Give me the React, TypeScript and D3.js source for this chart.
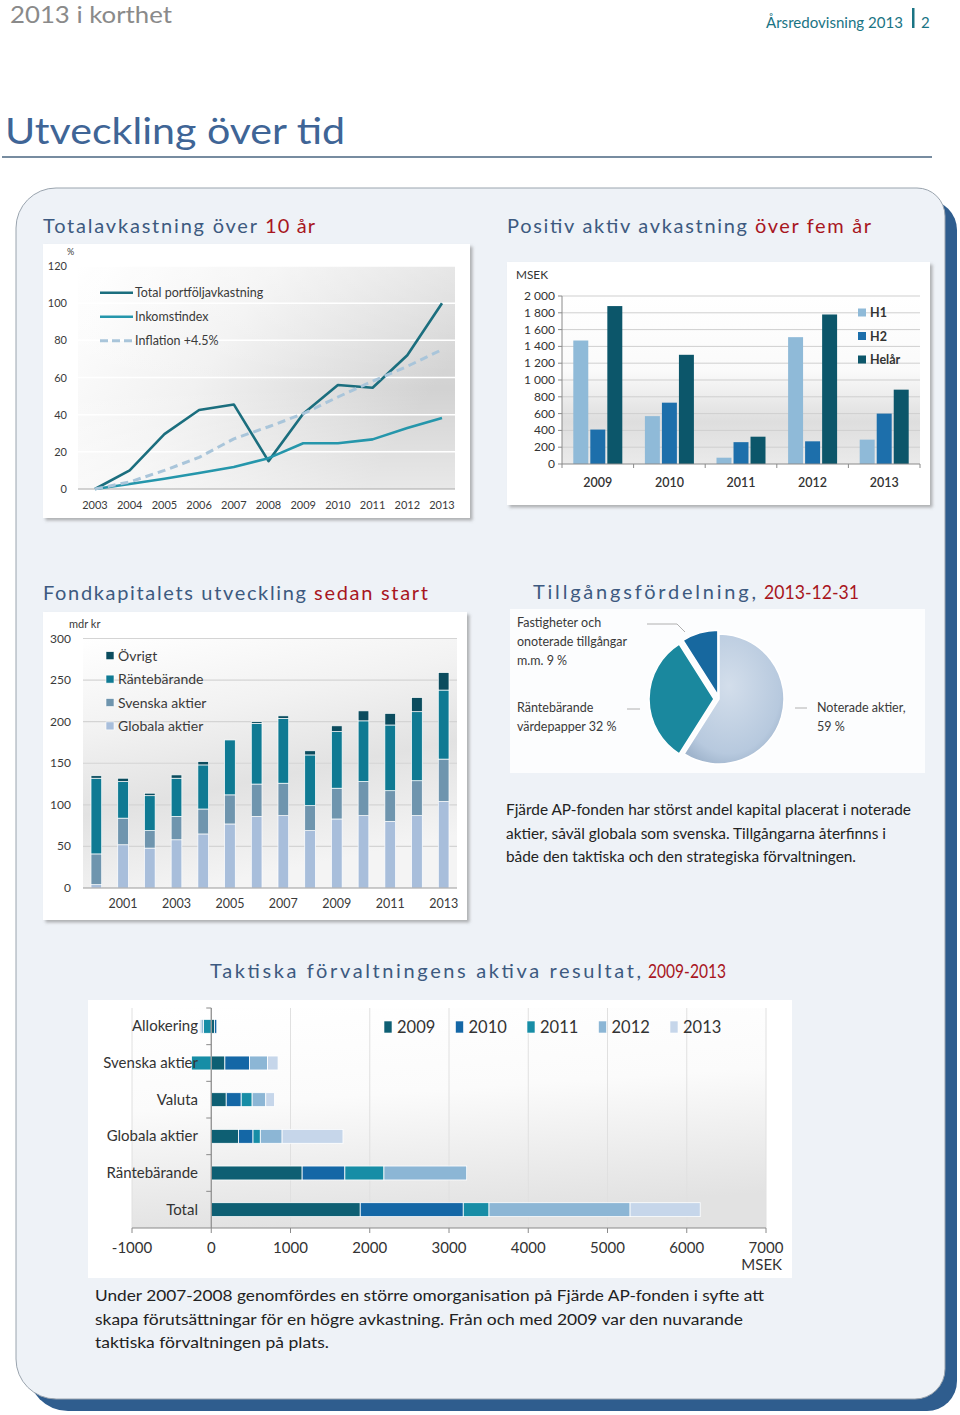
import React from "react";
import * as d3 from "d3";

const FONT = "Lato, 'Open Sans', 'DejaVu Sans', sans-serif";

// ---------- Totalavkastning över 10 år ----------
const returnYears = ["2003", "2004", "2005", "2006", "2007", "2008", "2009", "2010", "2011", "2012", "2013"];
const totalReturn = [0, 10, 29.5, 42.5, 45.5, 15, 40.5, 56, 54.5, 72, 100];
const incomeIndex = [0, 2.7, 5.5, 8.6, 11.8, 16.6, 24.6, 24.6, 26.7, 32.8, 38.2];
const inflationPlus = [0, 3.8, 10, 17, 27, 33.5, 40.5, 49.5, 58, 66, 75];
const returnTicks = [0, 20, 40, 60, 80, 100, 120];
const returnLegend = ["Total portföljavkastning", "Inkomstindex", "Inflation +4.5%"];

// ---------- Positiv aktiv avkastning över fem år ----------
const activeYears = ["2009", "2010", "2011", "2012", "2013"];
const activeH1 = [1470, 570, 75, 1510, 290];
const activeH2 = [410, 730, 260, 270, 600];
const activeFull = [1880, 1300, 325, 1780, 885];
const activeSeries = ["H1", "H2", "Helår"];
const activeTicks = [0, 200, 400, 600, 800, 1000, 1200, 1400, 1600, 1800, 2000];

// ---------- Fondkapitalets utveckling sedan start ----------
const capitalYears = ["2000", "2001", "2002", "2003", "2004", "2005", "2006", "2007", "2008", "2009", "2010", "2011", "2012", "2013"];
const capGlobal = [4, 52, 48, 58, 65, 77, 86, 87, 69, 83, 87, 80, 87, 104];
const capSwedish = [37, 32, 21, 28, 30, 35, 39, 39, 30, 37, 41, 37, 42, 51];
const capFixed = [91, 44, 42, 46, 53, 66, 73, 78, 61, 68, 73, 79, 83, 83];
const capOther = [3, 4, 3, 4, 4, 0, 2, 3, 5, 7, 12, 14, 17, 21];
const capitalSeries = ["Globala aktier", "Svenska aktier", "Räntebärande", "Övrigt"];
const capitalTicks = [0, 50, 100, 150, 200, 250, 300];
const capitalLabelYears = ["2001", "2003", "2005", "2007", "2009", "2011", "2013"];

// ---------- Tillgångsfördelning ----------
const allocationNames = ["Noterade aktier", "Räntebärande värdepapper", "Fastigheter och onoterade tillgångar m.m."];
const allocationShares = [59, 32, 9];
const allocationLabelLines = [
  ["Noterade aktier,", "59 %"],
  ["Räntebärande", "värdepapper 32 %"],
  ["Fastigheter och", "onoterade tillgångar", "m.m.  9 %"],
];

// ---------- Taktiska förvaltningens aktiva resultat ----------
const tacticalCategories = ["Allokering", "Svenska aktier", "Valuta", "Globala aktier", "Räntebärande", "Total"];
const tacticalYears = ["2009", "2010", "2011", "2012", "2013"];
const tact2009 = [40, 172, 189, 344, 1147, 1880];
const tact2010 = [30, 310, 189, 183, 539, 1300];
const tact2011 = [-100, -250, 138, 92, 493, 325];
const tact2012 = [-30, 229, 172, 275, 1044, 1780];
const tact2013 = [-20, 132, 109, 768, 0, 885];
const tacticalTicks = [-1000, 0, 1000, 2000, 3000, 4000, 5000, 6000, 7000];

const rightText = [
  "Fjärde AP-fonden har störst andel kapital placerat i noterade",
  "aktier, såväl globala som svenska. Tillgångarna återfinns i",
  "både den taktiska och den strategiska förvaltningen.",
];
const bottomText = [
  "Under 2007-2008 genomfördes en större omorganisation på Fjärde AP-fonden i syfte att",
  "skapa förutsättningar för en högre avkastning. Från och med 2009 var den nuvarande",
  "taktiska förvaltningen på plats.",
];

function roundedPath(x0: number, y0: number, x1: number, y1: number, tl: number, tr: number, br: number, bl: number) {
  const p = d3.path();
  p.moveTo(x0 + tl, y0);
  p.lineTo(x1 - tr, y0);
  p.arcTo(x1, y0, x1, y0 + tr, tr);
  p.lineTo(x1, y1 - br);
  p.arcTo(x1, y1, x1 - br, y1, br);
  p.lineTo(x0 + bl, y1);
  p.arcTo(x0, y1, x0, y1 - bl, bl);
  p.lineTo(x0, y0 + tl);
  p.arcTo(x0, y0, x0 + tl, y0, tl);
  p.closePath();
  return p.toString();
}

function fmtSpace(v: number) {
  if (v >= 1000) return `${Math.floor(v / 1000)} ${String(v % 1000).padStart(3, "0")}`;
  return String(v);
}

export default function App() {
  // ----- chart 1 -----
  const x1 = d3.scalePoint<string>().domain(returnYears).range([95, 442]);
  const y1 = d3.scaleLinear().domain([0, 120]).range([489, 266]);
  const line1 = d3
    .line<number>()
    .x((_, i) => x1(returnYears[i]) as number)
    .y((d) => y1(d));
  const lineColors = ["#1b6e7e", "#2596ab", "#a9c5da"];
  const lineSeries = [totalReturn, incomeIndex, inflationPlus];

  // ----- chart 2 -----
  const x2 = d3.scaleBand<string>().domain(activeYears).range([562, 920]);
  const x2i = d3.scaleBand<string>().domain(activeSeries).range([11.3, 60.3]).paddingInner(0.12);
  const y2 = d3.scaleLinear().domain([0, 2000]).range([464, 296]);
  const activeColors = ["#8fbad8", "#1d6fab", "#0c566a"];
  const activeValues = [activeH1, activeH2, activeFull];

  // ----- chart 3 -----
  const x3 = d3.scaleBand<string>().domain(capitalYears).range([83, 457]).paddingInner(0.6).paddingOuter(0.3);
  const y3 = d3.scaleLinear().domain([0, 300]).range([888, 638.5]);
  const capColors = ["#a8bedb", "#6f95ae", "#0f7a93", "#0b4c5e"];
  const capRows = capitalYears.map((yr, i) => ({
    year: yr,
    "Globala aktier": capGlobal[i],
    "Svenska aktier": capSwedish[i],
    "Räntebärande": capFixed[i],
    "Övrigt": capOther[i],
  }));
  const capStack = d3.stack<any>().keys(capitalSeries)(capRows);

  // ----- chart 4 (pie) -----
  const pieCx = 719;
  const pieCy = 699;
  const pieR = 65;
  const pieArcs = d3.pie<number>().sort(null).startAngle(0).endAngle(2 * Math.PI)(allocationShares);
  const arcGen = d3.arc<d3.PieArcDatum<number>>().innerRadius(0).outerRadius(pieR);
  const pieColors = ["url(#pieLight)", "#1a889e", "#17689f"];
  const pieOffsets = [0, 5, 4];

  // ----- chart 5 -----
  const x5 = d3.scaleLinear().domain([-1000, 7000]).range([132, 766]);
  const y5 = d3.scaleBand<string>().domain(tacticalCategories).range([1008, 1228]).paddingInner(0.62).paddingOuter(0.31);
  const tactColors = ["#0e5f73", "#1467a6", "#178da6", "#8cb6d5", "#c6d6ea"];
  const tactSeriesValues = [tact2009, tact2010, tact2011, tact2012, tact2013];
  const tactRows = tacticalCategories.map((c, i) => {
    const r: any = { cat: c };
    tacticalYears.forEach((yr, k) => (r[yr] = tactSeriesValues[k][i]));
    return r;
  });
  const tactStack = d3.stack<any>().keys(tacticalYears).offset(d3.stackOffsetDiverging)(tactRows);
  const bandStep = y5.step();

  const titleBlue = "#3d5a80";
  const titleRed = "#a8161e";
  const txt = "#3a3a3a";

  return (
    <svg width={960} height={1415} style={{ position: "absolute", left: 0, top: 0 }} fontFamily={FONT}>
      <defs>
        <filter id="boxShadow" x="-5%" y="-5%" width="112%" height="115%">
          <feDropShadow dx="2.5" dy="2.5" stdDeviation="1.6" floodColor="#7a7a7a" floodOpacity="0.55" />
        </filter>
        <linearGradient id="g1" x1="0" y1="0" x2="1" y2="0.4">
          <stop offset="0" stopColor="#ffffff" />
          <stop offset="0.45" stopColor="#f1f1f1" />
          <stop offset="1" stopColor="#d2d2d2" />
        </linearGradient>
        <linearGradient id="g1v" x1="0" y1="0" x2="0" y2="1">
          <stop offset="0" stopColor="#ffffff" stopOpacity="0.35" />
          <stop offset="0.55" stopColor="#ffffff" stopOpacity="0" />
          <stop offset="1" stopColor="#ffffff" stopOpacity="0.5" />
        </linearGradient>
        <linearGradient id="g2" x1="0" y1="0" x2="0" y2="1">
          <stop offset="0" stopColor="#ffffff" />
          <stop offset="0.45" stopColor="#fafafa" />
          <stop offset="0.75" stopColor="#dedede" />
          <stop offset="1" stopColor="#eaeaea" />
        </linearGradient>
        <linearGradient id="g3" x1="0" y1="0" x2="0.3" y2="1">
          <stop offset="0" stopColor="#ffffff" />
          <stop offset="0.35" stopColor="#f2f2f2" />
          <stop offset="0.65" stopColor="#e2e2e2" />
          <stop offset="1" stopColor="#f4f4f4" />
        </linearGradient>
        <linearGradient id="g5" x1="0" y1="0" x2="0.2" y2="1">
          <stop offset="0" stopColor="#ffffff" />
          <stop offset="0.45" stopColor="#fbfbfb" />
          <stop offset="1" stopColor="#e2e2e2" />
        </linearGradient>
        <radialGradient id="pieLight" cx="0.45" cy="0.4" r="0.65">
          <stop offset="0" stopColor="#d3deeb" />
          <stop offset="0.8" stopColor="#b7c9de" />
          <stop offset="1" stopColor="#9fb4cc" />
        </radialGradient>
      </defs>

      <rect x={0} y={0} width={960} height={1415} fill="#ffffff" />

      {/* header */}
      <text x={10} y={23} fontSize={24} fill="#8a8a8a" textLength={162} lengthAdjust="spacingAndGlyphs">2013 i korthet</text>
      <text x={766} y={28} fontSize={15} fill="#1a7484" textLength={137} lengthAdjust="spacingAndGlyphs">Årsredovisning 2013</text>
      <rect x={912} y={8} width={2.5} height={20} fill="#1a7484" />
      <text x={921} y={28} fontSize={15} fill="#1a7484">2</text>
      <text x={5} y={144} fontSize={36} fill="#3f6596" textLength={340} lengthAdjust="spacingAndGlyphs">Utveckling över tid</text>
      <line x1={2} x2={932} y1={157} y2={157} stroke="#4a6680" strokeWidth={1.5} />

      {/* panel */}
      <path d={roundedPath(28, 200, 957, 1411, 40, 30, 30, 40)} fill="#2f5d8e" />
      <path d={roundedPath(16, 188, 945, 1399, 40, 28, 30, 40)} fill="#eef2f7" stroke="#9aa4ae" strokeWidth={1} />

      {/* section titles */}
      <text x={43} y={233} fontSize={20} fill={titleBlue} textLength={214} lengthAdjust="spacing">Totalavkastning över</text>
      <text x={265} y={233} fontSize={20} fill={titleRed} textLength={50} lengthAdjust="spacing">10 år</text>
      <text x={507} y={233} fontSize={20} fill={titleBlue} textLength={240} lengthAdjust="spacing">Positiv aktiv avkastning</text>
      <text x={755} y={233} fontSize={20} fill={titleRed} textLength={116} lengthAdjust="spacing">över fem år</text>
      <text x={43} y={600} fontSize={20} fill={titleBlue} textLength={263} lengthAdjust="spacing">Fondkapitalets utveckling</text>
      <text x={314} y={600} fontSize={20} fill={titleRed} textLength={114} lengthAdjust="spacing">sedan start</text>
      <text x={533} y={599} fontSize={20} fill={titleBlue} textLength={223} lengthAdjust="spacing">Tillgångsfördelning,</text>
      <text x={764} y={599} fontSize={19} fill={titleRed} textLength={95} lengthAdjust="spacingAndGlyphs">2013-12-31</text>
      <text x={210} y={978} fontSize={20} fill={titleBlue} textLength={431} lengthAdjust="spacing">Taktiska förvaltningens aktiva resultat,</text>
      <text x={648} y={978} fontSize={19} fill={titleRed} textLength={78} lengthAdjust="spacingAndGlyphs">2009-2013</text>

      {/* ---------- chart 1 ---------- */}
      <rect x={43} y={244} width={427} height={274} fill="#ffffff" filter="url(#boxShadow)" />
      <rect x={78} y={y1(120)} width={377} height={y1(0) - y1(120)} fill="url(#g1)" />
      <rect x={78} y={y1(120)} width={377} height={y1(0) - y1(120)} fill="url(#g1v)" />
      {returnTicks.filter((t) => t > 0).map((t) => (
        <line key={t} x1={78} x2={455} y1={y1(t)} y2={y1(t)} stroke="#ffffff" strokeWidth={1.5} />
      ))}
      <line x1={78} x2={455} y1={y1(0)} y2={y1(0)} stroke="#a8a8a8" strokeWidth={1} />
      {returnTicks.map((t) => (
        <text key={t} x={67} y={y1(t) + 4} fontSize={11} fill={txt} textAnchor="end">{t}</text>
      ))}
      <text x={67} y={255} fontSize={9} fill={txt}>%</text>
      {returnYears.map((yr) => (
        <text key={yr} x={x1(yr)} y={509} fontSize={11} fill={txt} textAnchor="middle">{yr}</text>
      ))}
      {lineSeries.map((s, i) => (
        <path
          key={i}
          d={line1(s) as string}
          fill="none"
          stroke={lineColors[i]}
          strokeWidth={i === 2 ? 3 : 2.6}
          strokeDasharray={i === 2 ? "8 5" : undefined}
          strokeLinejoin="round"
        />
      ))}
      {returnLegend.map((name, i) => {
        const ly = 292.7 + i * 24;
        return (
          <g key={name}>
            <line x1={100} x2={133} y1={ly} y2={ly} stroke={lineColors[i]} strokeWidth={i === 2 ? 3 : 2.6} strokeDasharray={i === 2 ? "8 4" : undefined} />
            <text x={135} y={ly + 4.5} fontSize={12.5} fill={txt}>{name}</text>
          </g>
        );
      })}

      {/* ---------- chart 2 ---------- */}
      <rect x={507} y={262} width={423} height={243} fill="#ffffff" filter="url(#boxShadow)" />
      <rect x={562} y={y2(2000)} width={358} height={y2(0) - y2(2000)} fill="url(#g2)" />
      {activeTicks.filter((t) => t > 0).map((t) => (
        <line key={t} x1={562} x2={920} y1={y2(t)} y2={y2(t)} stroke="#cfcfcf" strokeWidth={1} />
      ))}
      {activeValues.map((vals, si) =>
        activeYears.map((yr, i) => (
          <rect
            key={`${si}-${yr}`}
            x={(x2(yr) as number) + (x2i(activeSeries[si]) as number)}
            y={y2(vals[i])}
            width={x2i.bandwidth()}
            height={y2(0) - y2(vals[i])}
            fill={activeColors[si]}
          />
        ))
      )}
      <line x1={562} x2={562} y1={y2(2000)} y2={y2(0)} stroke="#8a8a8a" />
      <line x1={562} x2={920} y1={y2(0)} y2={y2(0)} stroke="#8a8a8a" />
      {activeTicks.map((t) => (
        <g key={t}>
          <line x1={558} x2={562} y1={y2(t)} y2={y2(t)} stroke="#8a8a8a" />
          <text x={555} y={y2(t) + 4} fontSize={12} fill="#333" textAnchor="end">{fmtSpace(t)}</text>
        </g>
      ))}
      {activeYears.map((yr, i) => (
        <g key={yr}>
          <line x1={x2(yr) as number} x2={x2(yr) as number} y1={y2(0)} y2={y2(0) + 4} stroke="#8a8a8a" />
          {i === activeYears.length - 1 && (
            <line x1={920} x2={920} y1={y2(0)} y2={y2(0) + 4} stroke="#8a8a8a" />
          )}
          <text x={(x2(yr) as number) + x2.bandwidth() / 2} y={487} fontSize={12.5} fontWeight={600} fill="#333" textAnchor="middle">{yr}</text>
        </g>
      ))}
      <text x={516} y={279} fontSize={11} fill="#333" textLength={32} lengthAdjust="spacingAndGlyphs">MSEK</text>
      {activeSeries.map((s, i) => {
        const ly = 313 + i * 23.5;
        return (
          <g key={s}>
            <rect x={858} y={ly - 4.5} width={8} height={8} fill={activeColors[i]} />
            <text x={870} y={ly + 4} fontSize={12.5} fontWeight={700} fill="#333">{s}</text>
          </g>
        );
      })}

      {/* ---------- chart 3 ---------- */}
      <rect x={43} y={612} width={424} height={308} fill="#ffffff" filter="url(#boxShadow)" />
      <rect x={83} y={y3(300)} width={374} height={y3(0) - y3(300)} fill="url(#g3)" />
      {capitalTicks.filter((t) => t > 0).map((t) => (
        <line key={t} x1={83} x2={457} y1={y3(t)} y2={y3(t)} stroke="#d4d4d4" strokeWidth={1.2} />
      ))}
      {capStack.map((layer, si) =>
        layer.map((d, i) => (
          <rect
            key={`${si}-${i}`}
            x={x3(capitalYears[i]) as number}
            y={y3(d[1])}
            width={x3.bandwidth()}
            height={Math.max(0, y3(d[0]) - y3(d[1]))}
            fill={capColors[si]}
            stroke="#ffffff"
            strokeWidth={0.7}
          />
        ))
      )}
      <line x1={83} x2={457} y1={y3(0)} y2={y3(0)} stroke="#9a9a9a" />
      {capitalTicks.map((t) => (
        <text key={t} x={71} y={y3(t) + 4} fontSize={12} fill={txt} textAnchor="end">{t}</text>
      ))}
      <text x={69} y={628} fontSize={11} fill={txt}>mdr kr</text>
      {capitalLabelYears.map((yr) => (
        <text key={yr} x={(x3(yr) as number) + x3.bandwidth() / 2} y={908} fontSize={12.5} fill={txt} textAnchor="middle">{yr}</text>
      ))}
      {[...capitalSeries].reverse().map((s, i) => {
        const ly = 655.7 + i * 23.4;
        const ci = capitalSeries.length - 1 - i;
        return (
          <g key={s}>
            <rect x={106} y={ly - 4} width={8} height={8} fill={capColors[ci]} stroke="#ffffff" strokeWidth={0.6} />
            <text x={118} y={ly + 5} fontSize={14} fill={txt}>{s}</text>
          </g>
        );
      })}

      {/* ---------- chart 4 (pie) ---------- */}
      <rect x={510} y={609} width={415} height={164} fill="#fcfdfe" />
      {pieArcs.map((a, i) => {
        const mid = (a.startAngle + a.endAngle) / 2;
        const dx = Math.sin(mid) * pieOffsets[i];
        const dy = -Math.cos(mid) * pieOffsets[i];
        return (
          <path
            key={allocationNames[i]}
            d={arcGen(a) as string}
            transform={`translate(${pieCx + dx},${pieCy + dy})`}
            fill={pieColors[i]}
            stroke="#ffffff"
            strokeWidth={1.5}
          />
        );
      })}
      <polyline points="647,624 677,624 685,632" fill="none" stroke="#b0b0b0" />
      <line x1={627} x2={640} y1={709} y2={709} stroke="#b0b0b0" />
      <line x1={795} x2={807} y1={708} y2={708} stroke="#b0b0b0" />
      {allocationLabelLines[2].map((l, i) => (
        <text key={l} x={517} y={627 + i * 19} fontSize={12.5} fill={txt}>{l}</text>
      ))}
      {allocationLabelLines[1].map((l, i) => (
        <text key={l} x={517} y={712 + i * 19} fontSize={12.5} fill={txt}>{l}</text>
      ))}
      {allocationLabelLines[0].map((l, i) => (
        <text key={l} x={817} y={712 + i * 19} fontSize={12.5} fill={txt}>{l}</text>
      ))}

      {/* right paragraph */}
      {rightText.map((l, i) => (
        <text key={i} x={506} y={815 + i * 23.5} fontSize={15.5} fill="#222" textLength={[405, 380, 350][i]} lengthAdjust="spacingAndGlyphs">{l}</text>
      ))}

      {/* ---------- chart 5 ---------- */}
      <rect x={88} y={1000} width={704} height={278} fill="#ffffff" />
      <rect x={132} y={1008} width={634} height={220} fill="url(#g5)" />
      {tacticalTicks.map((t) => (
        <line key={t} x1={x5(t)} x2={x5(t)} y1={1008} y2={1228} stroke="#e0e0e0" />
      ))}
      {tactStack.map((layer, si) =>
        layer.map((d, i) => {
          const a = Math.min(d[0], d[1]);
          const b = Math.max(d[0], d[1]);
          if (b - a <= 0) return null;
          return (
            <rect
              key={`${si}-${i}`}
              x={x5(a)}
              y={y5(tacticalCategories[i]) as number}
              width={x5(b) - x5(a)}
              height={y5.bandwidth()}
              fill={tactColors[si]}
              stroke="#ffffff"
              strokeWidth={0.8}
            />
          );
        })
      )}
      <line x1={132} x2={766} y1={1228} y2={1228} stroke="#8a8a8a" strokeWidth={1.2} />
      <line x1={x5(0)} x2={x5(0)} y1={1008} y2={1228} stroke="#8a8a8a" strokeWidth={1.2} />
      {tacticalCategories.map((c, i) => (
        <line key={c} x1={x5(0) - 5} x2={x5(0)} y1={1008 + i * bandStep} y2={1008 + i * bandStep} stroke="#8a8a8a" />
      ))}
      {tacticalTicks.map((t) => (
        <g key={t}>
          <line x1={x5(t)} x2={x5(t)} y1={1228} y2={1233} stroke="#8a8a8a" />
          <text x={x5(t)} y={1253} fontSize={15} fill="#333" textAnchor="middle">{t}</text>
        </g>
      ))}
      <text x={782} y={1270} fontSize={15} fill="#333" textAnchor="end">MSEK</text>
      {tacticalCategories.map((c) => (
        <text key={c} x={198} y={(y5(c) as number) + y5.bandwidth() / 2 + 5} fontSize={15} fill="#333" textAnchor="end">{c}</text>
      ))}
      {tacticalYears.map((yr, i) => {
        const lx = 384 + i * 71.5;
        return (
          <g key={yr}>
            <rect x={lx} y={1021} width={8} height={12} fill={tactColors[i]} stroke="#ffffff" strokeWidth={0.6} />
            <text x={lx + 13} y={1033} fontSize={16.5} fill="#333">{yr}</text>
          </g>
        );
      })}

      {/* bottom paragraph */}
      {bottomText.map((l, i) => (
        <text key={i} x={95} y={1301 + i * 23.5} fontSize={16} fill="#222" textLength={[669, 648, 234][i]} lengthAdjust="spacingAndGlyphs">{l}</text>
      ))}
    </svg>
  );
}
